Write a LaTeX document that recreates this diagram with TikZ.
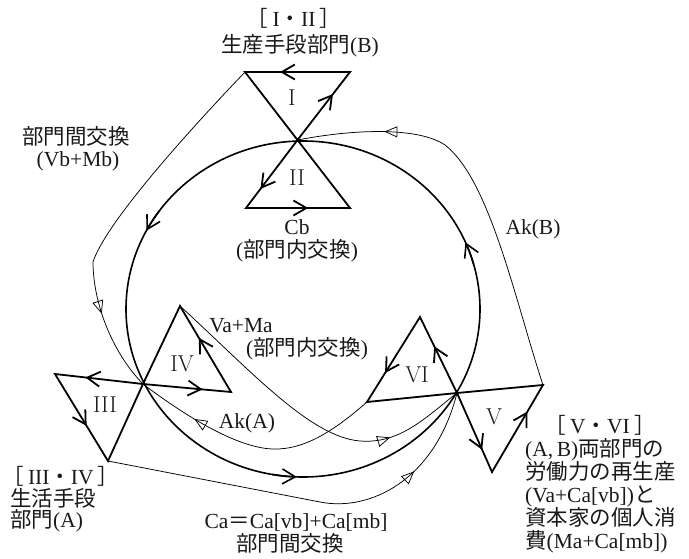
\documentclass[tikz,border=0pt]{standalone}
\usepackage{fontspec}
\newfontfamily\jpfont{Noto Sans CJK JP}
\newfontfamily\libfont{Liberation Serif}
\newcommand\jp[1]{{\jpfont #1}}
\usetikzlibrary{arrows.meta,decorations.markings}
\tikzset{
  bold/.style={line width=1.8pt, line join=miter},
  ring/.style={line width=1.6pt},
  thin/.style={line width=0.75pt},
  barbtip/.style={-{Straight Barb[length=13pt,width=15pt]}},
  barbs/.style 2 args={postaction={decorate,decoration={markings,
      mark=at position #1 with {\arrow{Straight Barb[length=13pt,width=15pt]}},
      mark=at position #2 with {\arrow{Straight Barb[length=13pt,width=15pt]}}}}},
  tri/.style={postaction={decorate,decoration={markings,
      mark=at position #1 with {\arrow{Triangle[open,length=13pt,width=11pt]}}}}},
  lbl/.style={font=\fontsize{21.5}{23}\selectfont\libfont, inner sep=0pt, text=black!90},
  num/.style={font=\fontsize{23}{23}\selectfont, inner sep=0pt, text=black!90},
}
\begin{document}
\begin{tikzpicture}[x=1pt,y=-1pt]
\useasboundingbox (0,0) rectangle (689,559);
% key points
\coordinate (O) at (303,309);
\coordinate (X1) at (297.5,140);
\coordinate (Itl) at (245,72);
\coordinate (Itr) at (350,72);
\coordinate (IIbl) at (246,208);
\coordinate (IIbr) at (350,208);
\coordinate (L) at (143,384);
\coordinate (IIIl) at (55,374);
\coordinate (IIIb) at (108,461);
\coordinate (IVt) at (180,306);
\coordinate (IVr) at (231,392);
\coordinate (R) at (457,393);
\coordinate (VIt) at (420,317);
\coordinate (VIl) at (367,402);
\coordinate (Vr) at (543,385);
\coordinate (Vb) at (492,472);
\coordinate (Ctop) at (303,141);
\coordinate (K1) at (93,262);
\coordinate (K2) at (320,502);
\coordinate (K3) at (273,449);
\coordinate (K4) at (360,441);
\coordinate (K5) at (445,145);

% big circle (counterclockwise on screen)
\draw[ring] (Ctop) arc[start angle=-90, end angle=-450, x radius=177, y radius=168];
\foreach \a in {-144.2,-260,-375.4}{
  \draw[ring, barbtip] (O) ++(\a:177 and 168)
    arc[start angle=\a, end angle=\a-8, x radius=177, y radius=168];
}

% triangles
\draw[bold, barbs={0.21}{0.563}] (X1) -- (Itr) -- (Itl) -- cycle;
\draw[bold, barbs={0.223}{0.536}] (X1) -- (IIbl) -- (IIbr) -- cycle;
\draw[bold, barbs={0.211}{0.543}] (L) -- (IIIl) -- (IIIb) -- cycle;
\draw[bold, barbs={0.218}{0.551}] (L) -- (IVr) -- (IVt) -- cycle;
\draw[bold, barbs={0.189}{0.547}] (R) -- (VIt) -- (VIl) -- cycle;
\draw[bold, barbs={0.227}{0.572}] (R) -- (Vb) -- (Vr) -- cycle;

% thin connectors
\draw[thin, tri=0.783] (Itl) .. controls (180,140) and (105,225) .. (K1)
      .. controls (93,300) and (110,350) .. (L);
\draw[thin, tri=0.779] (IIIb) -- (K2) .. controls (370,512) and (435,480) .. (R);
\draw[thin, tri=0.756] (VIl) .. controls (335,430) and (305,450) .. (K3)
      .. controls (235,448) and (180,412) .. (L);
\draw[thin, tri=0.762] (IVt) .. controls (250,370) and (310,437) .. (K4)
      .. controls (400,444) and (425,418) .. (R);
\draw[thin, tri=0.788] (Vr) .. controls (515,300) and (490,180) .. (K5)
      .. controls (420,128) and (360,128) .. (X1);

% numerals
\node[num] (n1) at (292,98) {I};
\node[num] (n2) at (297,178) {II};
\node[num] (n3) at (105,405) {III};
\node[num] (n4) at (182,364) {IV};
\node[num] (n5) at (494,417) {V};
\node[num] (n6) at (417,375) {VI};

% labels
\node[lbl, anchor=base] (tA) at (294,27) {\jp{［}\hspace{0.2em}I\jp{・}II\hspace{0.2em}\jp{］}};
\node[lbl, anchor=base] (tB) at (300,53) {\jp{生産手段部門}(B)};
\node[lbl, anchor=base] (tC) at (76,145) {\jp{部門間交換}};
\node[lbl, anchor=base] (tD) at (78,167) {(Vb+Mb)};
\node[lbl, anchor=base] (tE) at (297,235) {Cb};
\node[lbl, anchor=base] (tF) at (297,258) {(\jp{部門内交換})};
\node[lbl, anchor=base] (tG) at (533,235) {Ak(B)};
\node[lbl, anchor=base] (tH) at (241,332) {Va+Ma};
\node[lbl, anchor=base] (tI) at (307,355) {(\jp{部門内交換})};
\node[lbl, anchor=base] (tJ) at (247,428) {Ak(A)};
\node[lbl, anchor=base] (tK) at (296,528) {Ca\jp{＝}Ca[vb]+Ca[mb]};
\node[lbl, anchor=base] (tL) at (290,551) {\jp{部門間交換}};
\node[lbl, anchor=base west] (tM) at (2,484) {\jp{［}\hspace{0.2em}III\jp{・}IV\hspace{0.2em}\jp{］}};
\node[lbl, anchor=base west] (tN) at (10,506) {\jp{生活手段}};
\node[lbl, anchor=base west] (tO) at (10,527) {\jp{部門}(A)};
\node[lbl, anchor=base] (tP) at (600,433) {\jp{［}\hspace{0.2em}V\jp{・}VI\hspace{0.2em}\jp{］}};
\node[lbl, anchor=base west] (tQ) at (525,456) {(A,\,B)\jp{両部門の}};
\node[lbl, anchor=base west] (tR) at (525,479) {\jp{労働力の再生産}};
\node[lbl, anchor=base west] (tS) at (525,502) {(Va+Ca[vb])\jp{と}};
\node[lbl, anchor=base west] (tT) at (525,525) {\jp{資本家の個人消}};
\node[lbl, anchor=base west] (tU) at (525,548) {\jp{費}(Ma+Ca[mb])};
\end{tikzpicture}
\end{document}
